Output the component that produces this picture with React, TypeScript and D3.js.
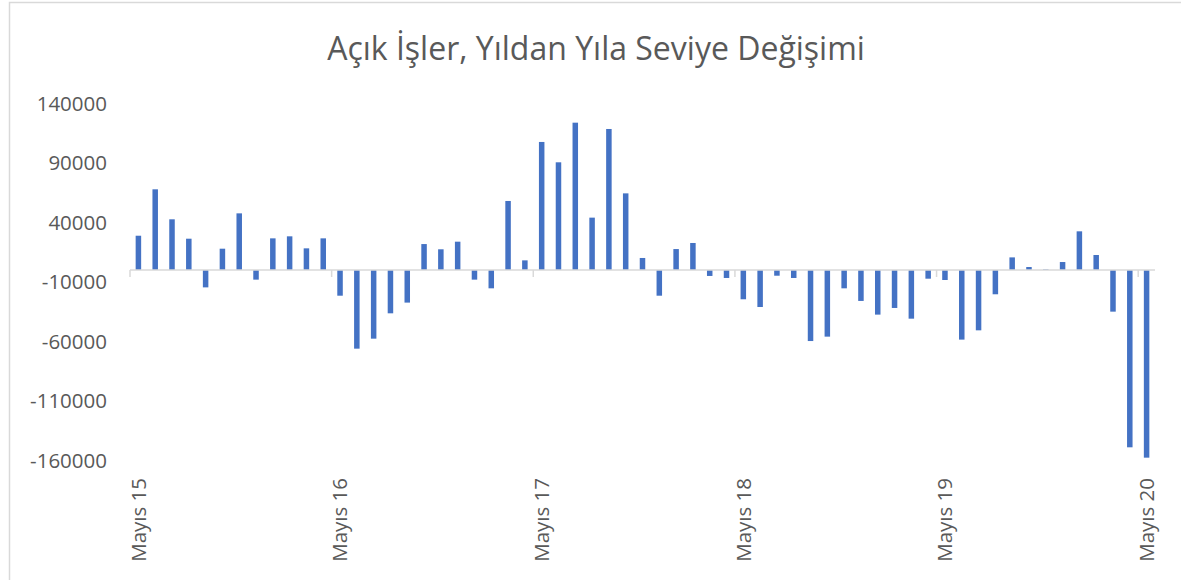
import React from "react";
import * as d3 from "d3";

const title = "Açık İşler, Yıldan Yıla Seviye Değişimi";

const values: number[] = [
  28800, 67800, 42600, 26300, -14600, 17900, 47600, -8100, 26600, 28300, 18200, 26600,
  -21600, -66100, -57700, -36400, -27400, 21800, 17400, 23800, -8100, -15400, 58000, 8100,
  107600, 90500, 123800, 44000, 118500, 64400, 10100, -21600, 17600, 22700, -5000, -6700,
  -24600, -31100, -4800, -6700, -59700, -56000, -15400, -26000, -37500, -31900, -40900, -7300,
  -8400, -58500, -50700, -20400, 10600, 2500, 500, 6700, 32500, 12600, -35000, -149000,
  -157700,
];

const categories: string[] = values.map((_, i) => {
  const yr = 15 + Math.floor(i / 12);
  return `m${i}-${yr}`;
});

const xLabels: { index: number; label: string }[] = [
  { index: 0, label: "Mayıs 15" },
  { index: 12, label: "Mayıs 16" },
  { index: 24, label: "Mayıs 17" },
  { index: 36, label: "Mayıs 18" },
  { index: 48, label: "Mayıs 19" },
  { index: 60, label: "Mayıs 20" },
];

const yTicks: number[] = [140000, 90000, 40000, -10000, -60000, -110000, -160000];

const FONT = "'Open Sans', 'Liberation Sans', sans-serif";
const TEXT = "#595959";
const AXIS = "#d9d9d9";
const BAR = "#4472C4";

export default function App() {
  const W = 1181;
  const H = 580;
  const x = d3.scaleBand<string>().domain(categories).range([130, 1155]).paddingInner(0).paddingOuter(0);
  const y = d3.scaleLinear().domain([-160000, 140000]).range([460.4, 103.4]);
  const bw = 5.5;
  const y0 = y(0);

  return (
    <svg width={W} height={H} style={{ position: "absolute", left: 0, top: 0 }}>
      <rect x={0} y={0} width={W} height={H} fill="#fff" />
      <rect x={9.5} y={2.5} width={W + 20} height={H + 20} fill="none" stroke={AXIS} strokeWidth={1.5} />
      <text x={596} y={60} textAnchor="middle" fontFamily={FONT} fontSize={32} fill={TEXT}>
        {title}
      </text>
      {yTicks.map((t) => (
        <text key={t} x={107} y={y(t)} dy="0.35em" textAnchor="end" fontFamily={FONT} fontSize={20.5} fill={TEXT}>
          {t}
        </text>
      ))}
      {values.map((v, i) => {
        const cx = (x(categories[i]) as number) + x.bandwidth() / 2;
        const top = Math.min(y(v), y0);
        const h = Math.abs(y(v) - y0);
        return <rect key={i} x={cx - bw / 2} y={top} width={bw} height={h} fill={BAR} />;
      })}
      <line x1={130} x2={1155} y1={y0} y2={y0} stroke={AXIS} strokeWidth={1.5} />
      {xLabels.map((l) => {
        const bx = x(categories[l.index]) as number;
        return <line key={"t" + l.index} x1={bx} x2={bx} y1={y0} y2={y0 + 7} stroke={AXIS} strokeWidth={1.5} />;
      })}
      {xLabels.map((l) => {
        const cx = (x(categories[l.index]) as number) + x.bandwidth() / 2;
        return (
          <text
            key={"l" + l.index}
            transform={`translate(${cx},478) rotate(-90)`}
            textAnchor="end"
            dy="0.35em"
            fontFamily={FONT}
            fontSize={20.5}
            fill={TEXT}
          >
            {l.label}
          </text>
        );
      })}
    </svg>
  );
}
